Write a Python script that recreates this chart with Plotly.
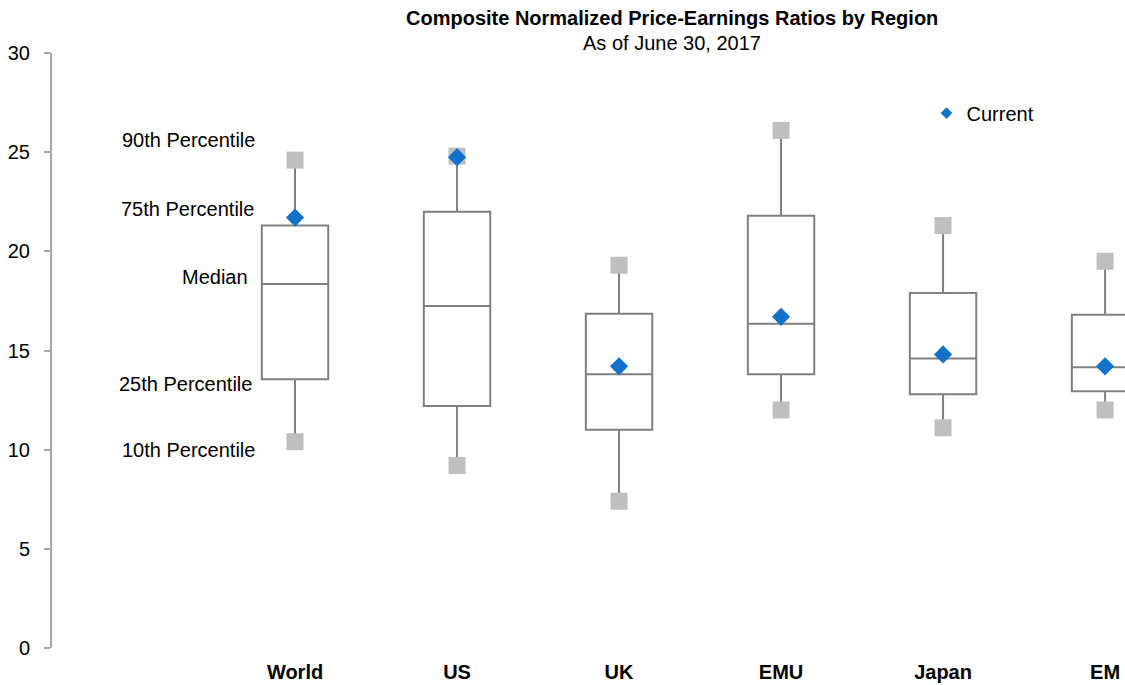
import plotly.graph_objects as go

# Regions and their percentile statistics (normalized P/E)
regions = ["World", "US", "UK", "EMU", "Japan", "EM"]
p10 = [10.4, 9.2, 7.4, 12.0, 11.1, 12.0]
p25 = [13.55, 12.2, 11.0, 13.8, 12.8, 12.95]
median = [18.35, 17.25, 13.8, 16.35, 14.6, 14.15]
p75 = [21.3, 22.0, 16.85, 21.8, 17.9, 16.8]
p90 = [24.6, 24.8, 19.3, 26.1, 21.3, 19.5]
current = [21.7, 24.75, 14.2, 16.7, 14.8, 14.2]

y_ticks = [0, 5, 10, 15, 20, 25, 30]

FONT = "Liberation Sans, Arial, sans-serif"
BOX_LINE = "#808080"
SQUARE = "#BFBFBF"
BLUE = "#1272C9"

xpos = list(range(len(regions)))

fig = go.Figure()

# Interquartile boxes with whiskers to the 10th/90th percentiles
fig.add_trace(go.Box(
    x=xpos,
    q1=p25,
    median=median,
    q3=p75,
    lowerfence=p10,
    upperfence=p90,
    width=0.41,
    whiskerwidth=0,
    fillcolor="white",
    line=dict(color=BOX_LINE, width=2),
    boxpoints=False,
    hoverinfo="skip",
    showlegend=False,
))

# Percentile end markers
fig.add_trace(go.Scatter(
    x=xpos + xpos,
    y=p90 + p10,
    mode="markers",
    marker=dict(symbol="square", size=17, color=SQUARE),
    showlegend=False,
    hoverinfo="skip",
))

# Current values
fig.add_trace(go.Scatter(
    x=xpos,
    y=current,
    mode="markers",
    marker=dict(symbol="diamond", size=14, color=BLUE),
    showlegend=False,
    name="Current",
))

# Legend entry with a smaller symbol
fig.add_trace(go.Scatter(
    x=[None],
    y=[None],
    mode="markers",
    marker=dict(symbol="diamond", size=9, color=BLUE),
    name="Current",
    showlegend=True,
))

# Percentile labels placed next to the World box
labels = [
    ("90th Percentile", p90[0], 20, 0),
    ("75th Percentile", p75[0], 17, -1),
    ("Median", median[0], 7, -7),
    ("25th Percentile", p25[0], -5, -3),
    ("10th Percentile", p10[0], -8, 0),
]
for text, yv, ys, xs in labels:
    fig.add_annotation(
        x=-0.235, y=yv, xref="x", yref="y",
        text=text, showarrow=False,
        xanchor="right", yanchor="middle",
        yshift=ys, xshift=xs,
        font=dict(family=FONT, size=20, color="black"),
    )

# Title lines
fig.add_annotation(
    x=0.578, y=1.0588, xref="paper", yref="paper",
    text="<b>Composite Normalized Price-Earnings Ratios by Region</b>",
    showarrow=False, xanchor="center", yanchor="middle",
    font=dict(family=FONT, size=20, color="black"),
)
fig.add_annotation(
    x=0.578, y=1.0168, xref="paper", yref="paper",
    text="As of June 30, 2017",
    showarrow=False, xanchor="center", yanchor="middle",
    font=dict(family=FONT, size=20, color="black"),
)

fig.update_layout(
    width=1125,
    height=685,
    margin=dict(l=52, r=0, t=53, b=37),
    paper_bgcolor="white",
    plot_bgcolor="white",
    font=dict(family=FONT, size=20, color="black"),
    legend=dict(
        x=0.815, y=0.899, xanchor="left", yanchor="middle",
        bgcolor="rgba(0,0,0,0)",
        font=dict(family=FONT, size=20, color="black"),
    ),
    xaxis=dict(
        range=[-1.5, 5.123],
        tickvals=xpos,
        ticktext=[f"<b>{r}</b>" for r in regions],
        showline=False,
        showgrid=False,
        zeroline=False,
        ticks="",
        ticklabelstandoff=10,
        tickfont=dict(family=FONT, size=20, color="black"),
    ),
    yaxis=dict(
        range=[0, 30],
        tickvals=y_ticks,
        showline=True,
        linecolor="#A6A6A6",
        linewidth=2,
        ticks="outside",
        ticklen=6,
        tickwidth=2,
        tickcolor="#A6A6A6",
        showgrid=False,
        zeroline=False,
        ticklabelstandoff=10,
        tickfont=dict(family=FONT, size=20, color="black"),
    ),
)

fig.write_html("out.html")
